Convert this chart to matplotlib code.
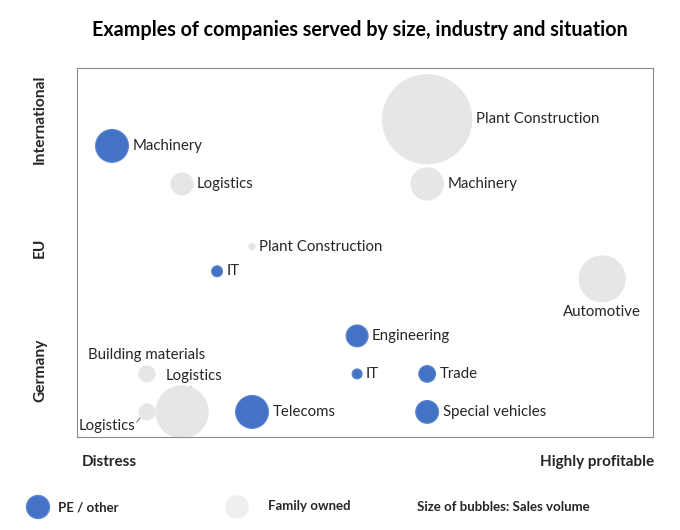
import numpy as np
import matplotlib.pyplot as plt
from matplotlib.patches import Ellipse

plt.rcParams['font.family'] = ['Lato', 'DejaVu Sans']

# profitability (x), region level (y), sales volume (bubble area), owner type
names = ["Machinery", "Logistics", "Plant Construction", "Machinery",
         "Plant Construction", "IT", "Automotive", "Engineering",
         "Building materials", "IT", "Trade", "Logistics", "Logistics",
         "Telecoms", "Special vehicles"]
profit = [1, 3, 10, 10, 5, 4, 15, 8, 2, 8, 10, 2, 3, 5, 10]
region = [8.0, 7.0, 8.7, 7.0, 5.35, 4.7, 4.5, 3.0, 2.0, 2.0, 2.0, 1.0, 1.0, 1.0, 1.0]
sales = [27, 12, 198, 26, 1, 3, 53, 12, 6.4, 2.5, 7, 6.4, 68, 27, 13]
owner = ["PE", "Family", "Family", "Family", "Family", "PE", "Family", "PE",
         "Family", "PE", "PE", "Family", "Family", "PE", "PE"]
region_labels = ["International", "EU", "Germany"]

BLUE = "#4472C4"
GREY = "#E7E6E6"
FS = 10.8

fig = plt.figure(figsize=(6.8, 5.3), dpi=100)
ax = fig.add_axes([77 / 680, 93 / 530, 576 / 680, 369 / 530])

r_px = np.sqrt(np.array(sales) * 10.0)
sizes = (2 * r_px * 0.72) ** 2
colors = [BLUE if o == "PE" else GREY for o in owner]
edges = ["#5B86CF" if o == "PE" else GREY for o in owner]
ax.scatter(profit, region, s=sizes, c=colors, edgecolors=edges, linewidths=0.8, zorder=2)

place = ["right"] * len(names)
place[6] = "below"
place[8] = "above"
place[11] = "lowleft"
place[12] = "upper"

for i, name in enumerate(names):
    r = r_px[i]
    xy = (profit[i], region[i])
    if place[i] == "right":
        ax.annotate(name, xy, xytext=((r + 4) * 0.72, 0), textcoords="offset points",
                    ha="left", va="center", fontsize=FS, color="#262626")
    elif place[i] == "below":
        ax.annotate(name, xy, xytext=(0, -(r + 3) * 0.72), textcoords="offset points",
                    ha="center", va="top", fontsize=FS, color="#262626")
    elif place[i] == "above":
        ax.annotate(name, xy, xytext=(0, (r + 4) * 0.72), textcoords="offset points",
                    ha="center", va="bottom", fontsize=FS, color="#262626")
    elif place[i] == "upper":
        ax.annotate(name, xy, xytext=(12 * 0.72, 36 * 0.72), textcoords="offset points",
                    ha="center", va="center", fontsize=FS, color="#262626")
        ax.plot([profit[i] + 0.26, profit[i] + 0.24], [region[i] + 0.66, region[i] + 0.6],
                color="#7f7f7f", lw=0.8, zorder=1)
    else:
        ax.annotate(name, xy, xytext=(-12 * 0.72, -14 * 0.72), textcoords="offset points",
                    ha="right", va="center", fontsize=FS, color="#262626")
        ax.plot([profit[i] - 0.29, profit[i] - 0.2], [region[i] - 0.27, region[i] - 0.16],
                color="#7f7f7f", lw=0.8, zorder=1)

ax.set_xlim(0, 16.45)
ax.set_ylim(0.34, 10.05)
ax.set_xticks([])
ax.set_yticks([])
for sp in ax.spines.values():
    sp.set_color("#8c8c8c")
    sp.set_linewidth(0.8)

fig.text(359.5 / 680, 1 - 30 / 530, "Examples of companies served by size, industry and situation",
         ha="center", va="center", fontsize=14.2, fontweight="bold", color="black")

for lab, py in zip(region_labels, [119, 248, 370]):
    fig.text(40 / 680, 1 - py / 530, lab, rotation=90, ha="center", va="center",
             fontsize=11.2, fontweight="bold", color="#262626")

fig.text(82 / 680, 1 - 462 / 530, "Distress", ha="left", va="center",
         fontsize=11, fontweight="bold", color="#262626")
fig.text(654 / 680, 1 - 462 / 530, "Highly profitable", ha="right", va="center",
         fontsize=11, fontweight="bold", color="#262626")

# legend below the chart
fig.add_artist(Ellipse((38 / 680, 1 - 507 / 530), 23 / 680, 23 / 530,
                       transform=fig.transFigure, facecolor=BLUE, edgecolor="#5B86CF"))
fig.add_artist(Ellipse((237 / 680, 1 - 507 / 530), 22 / 680, 22 / 530,
                       transform=fig.transFigure, facecolor="#EFEFEF", edgecolor="#EFEFEF"))
fig.text(58 / 680, 1 - 507 / 530, "PE / other", ha="left", va="center",
         fontsize=9.5, fontweight="bold", color="#262626")
fig.text(268 / 680, 1 - 506 / 530, "Family owned", ha="left", va="center",
         fontsize=9.5, fontweight="bold", color="#262626")
fig.text(417 / 680, 1 - 507 / 530, "Size of bubbles: Sales volume", ha="left", va="center",
         fontsize=9.5, fontweight="bold", color="#262626")

fig.savefig("out.png", dpi=100, facecolor="white")
